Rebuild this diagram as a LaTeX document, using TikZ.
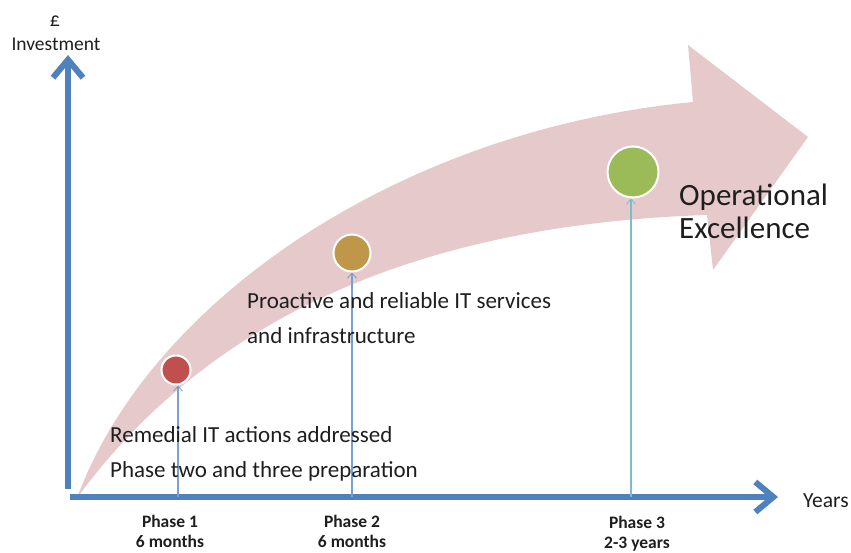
\documentclass[tikz,border=0pt]{standalone}
\usepackage{fontspec}
\setmainfont{Carlito}
\usetikzlibrary{arrows.meta}
\definecolor{axisblue}{RGB}{79,129,189}
\definecolor{bandpink}{RGB}{230,201,203}
\definecolor{txtgray}{RGB}{30,30,30}
\definecolor{pinblue}{RGB}{120,160,210}
\definecolor{pinteal}{RGB}{120,190,205}
\definecolor{dotred}{RGB}{192,80,77}
\definecolor{dottan}{RGB}{192,150,72}
\definecolor{dotgreen}{RGB}{155,187,89}
\begin{document}
\begin{tikzpicture}[x=1pt,y=-1pt,
  axis/.style={draw=axisblue,line width=6pt,-{Straight Barb[length=18pt,width=30pt,line width=6pt]}},
  pin/.style={draw=#1,line width=1.1pt,-{Straight Barb[length=5pt,width=9pt,line width=0.8pt]}},
  dot/.style={circle,fill=#1,draw=white,line width=2pt,inner sep=0pt},
  body/.style={font=\fontsize{23}{27}\selectfont,text=txtgray,anchor=base west,inner sep=0pt},
  phase/.style={font=\bfseries\fontsize{17.5}{22}\selectfont,text=txtgray,align=center,anchor=base,inner sep=0pt},
]
\useasboundingbox (0,0) rectangle (851,552);

% curved progress arrow
\fill[bandpink] (77,498) .. controls (150,300) and (400,130) .. (693,102)
  -- (688,45) -- (808,137) -- (713,270) -- (707,215)
  .. controls (400,225) and (200,330) .. (77,498) -- cycle;

% axes
\coordinate (ytop) at (68,55);
\coordinate (xstart) at (70,497);
\coordinate (xend) at (778,497);
\draw[axis] (68,489) -- (ytop);
\draw[axis] (xstart) -- (xend);

% milestones
\node[dot=dotred,minimum size=29pt] (m1) at (176,370) {};
\node[dot=dottan,minimum size=37pt] (m2) at (352,253) {};
\node[dot=dotgreen,minimum size=51pt] (m3) at (633,172) {};

\coordinate (b1) at (178,497);
\coordinate (b2) at (352,497);
\coordinate (b3) at (631,497);
\draw[pin=pinblue] (b1) -- (m1.south -| b1);
\draw[pin=pinblue] (b2) -- (m2.south -| b2);
\draw[pin=pinteal] (b3) -- (m3.south -| b3);

% axis titles
\node[font=\fontsize{20}{22}\selectfont,text=txtgray,anchor=base,inner sep=0pt] (pound) at (55,26) {£};
\node[font=\fontsize{19.5}{22}\selectfont,text=txtgray,anchor=base,inner sep=0pt] (inv) at (56,50) {Investment};
\node[font=\fontsize{21.5}{24}\selectfont,text=txtgray,anchor=base west,inner sep=0pt] (years) at (803,507) {Years};

% phase labels
\node[phase] (p1a) at (170,527) {Phase 1};
\node[phase] (p1b) at (170,547) {6 months};
\node[phase] (p2a) at (352,527) {Phase 2};
\node[phase] (p2b) at (352,547) {6 months};
\node[phase] (p3a) at (637,528) {Phase 3};
\node[phase] (p3b) at (637,548) {2-3 years};

% descriptions
\node[body] (t1) at (110,442) {Remedial IT actions addressed};
\node[body] (t2) at (110,477) {Phase two and three preparation};
\node[body] (t3) at (247,308) {Proactive and reliable IT services};
\node[body] (t4) at (247,343) {and infrastructure};
\node[font=\fontsize{31}{33}\selectfont,text=txtgray,anchor=base west,inner sep=0pt] (t5) at (679,205) {Operational};
\node[font=\fontsize{31}{33}\selectfont,text=txtgray,anchor=base west,inner sep=0pt] (t6) at (679,238) {Excellence};
\end{tikzpicture}
\end{document}
